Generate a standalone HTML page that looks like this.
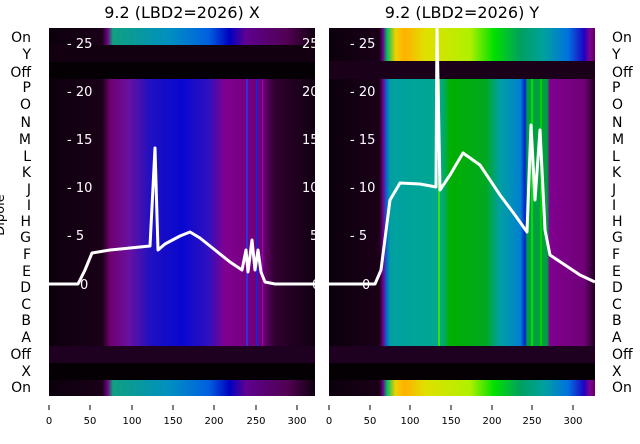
<!DOCTYPE html>
<html><head><style>
body{margin:0;width:640px;height:440px;background:#fff;overflow:hidden;font-family:"DejaVu Sans","Liberation Sans",sans-serif;}
</style></head><body>
<svg width="640" height="440" xmlns="http://www.w3.org/2000/svg" font-family="DejaVu Sans, Liberation Sans, sans-serif">
<defs>
<linearGradient id="lm" x1="49" x2="315" gradientUnits="userSpaceOnUse">
<stop offset="0" stop-color="#0c000c"/><stop offset="0.2" stop-color="#1a0018"/><stop offset="0.23" stop-color="#700070"/>
<stop offset="0.3" stop-color="#6a10a0"/><stop offset="0.38" stop-color="#2010c0"/><stop offset="0.5" stop-color="#0808d0"/>
<stop offset="0.6" stop-color="#3010c0"/><stop offset="0.66" stop-color="#800090"/><stop offset="0.8" stop-color="#700078"/>
<stop offset="0.85" stop-color="#300030"/><stop offset="1" stop-color="#100010"/></linearGradient>
<linearGradient id="lo" x1="49" x2="315" gradientUnits="userSpaceOnUse">
<stop offset="0" stop-color="#0c000c"/><stop offset="0.2" stop-color="#1a0018"/><stop offset="0.22" stop-color="#700080"/>
<stop offset="0.24" stop-color="#10a080"/><stop offset="0.45" stop-color="#0090c0"/><stop offset="0.6" stop-color="#0060e0"/>
<stop offset="0.68" stop-color="#0000c0"/><stop offset="0.74" stop-color="#600090"/><stop offset="0.9" stop-color="#500050"/>
<stop offset="1" stop-color="#100010"/></linearGradient>
<linearGradient id="rm" x1="329" x2="595" gradientUnits="userSpaceOnUse">
<stop offset="0" stop-color="#0c000c"/><stop offset="0.19" stop-color="#1a0018"/><stop offset="0.203" stop-color="#700090"/>
<stop offset="0.218" stop-color="#0070d0"/><stop offset="0.23" stop-color="#00a0a0"/><stop offset="0.42" stop-color="#00a890"/>
<stop offset="0.455" stop-color="#00b000"/><stop offset="0.59" stop-color="#00a820"/><stop offset="0.64" stop-color="#00a0a0"/>
<stop offset="0.72" stop-color="#0080d0"/><stop offset="0.737" stop-color="#0020d0"/><stop offset="0.745" stop-color="#00a040"/>
<stop offset="0.82" stop-color="#00a040"/><stop offset="0.83" stop-color="#800090"/><stop offset="0.96" stop-color="#700078"/>
<stop offset="1" stop-color="#200020"/></linearGradient>
<linearGradient id="ro" x1="329" x2="595" gradientUnits="userSpaceOnUse">
<stop offset="0" stop-color="#0c000c"/><stop offset="0.19" stop-color="#1a0018"/><stop offset="0.203" stop-color="#700090"/>
<stop offset="0.218" stop-color="#00c060"/><stop offset="0.25" stop-color="#f0d000"/><stop offset="0.286" stop-color="#ffb000"/>
<stop offset="0.36" stop-color="#e0e000"/><stop offset="0.53" stop-color="#b0f000"/><stop offset="0.62" stop-color="#00e000"/>
<stop offset="0.72" stop-color="#00a060"/><stop offset="0.81" stop-color="#00a0a0"/><stop offset="0.9" stop-color="#0070e0"/>
<stop offset="0.96" stop-color="#2000c0"/><stop offset="0.98" stop-color="#800090"/><stop offset="1" stop-color="#600060"/></linearGradient>
</defs>
<text x="182" y="18" font-size="16" text-anchor="middle">9.2 (LBD2=2026) X</text>
<text x="462" y="18" font-size="16" text-anchor="middle">9.2 (LBD2=2026) Y</text>
<!-- left panel -->
<rect x="49" y="28" width="266" height="17" fill="url(#lo)"/>
<rect x="49" y="45" width="266" height="17" fill="#120010"/>
<rect x="49" y="62" width="266" height="17" fill="#040004"/>
<rect x="49" y="79" width="266" height="267" fill="url(#lm)"/>
<rect x="49" y="346" width="266" height="17" fill="#1e0020"/>
<rect x="49" y="363" width="266" height="17" fill="#040004"/>
<rect x="49" y="380" width="266" height="16" fill="url(#lo)"/>
<rect x="246" y="79" width="2" height="267" fill="#3030e0"/><rect x="256" y="79" width="2" height="267" fill="#2020d0"/><rect x="262" y="79" width="1" height="267" fill="#a000c0"/>
<!-- right panel -->
<rect x="329" y="28" width="266" height="33" fill="url(#ro)"/>
<rect x="329" y="61" width="266" height="18" fill="#1a0018"/>
<rect x="329" y="79" width="266" height="267" fill="url(#rm)"/>
<rect x="329" y="346" width="266" height="17" fill="#1e0020"/>
<rect x="329" y="363" width="266" height="17" fill="#040004"/>
<rect x="329" y="380" width="266" height="16" fill="url(#ro)"/>
<rect x="438" y="79" width="2" height="267" fill="#40e000"/>
<rect x="531" y="79" width="2" height="267" fill="#00e000"/><rect x="540" y="79" width="2" height="267" fill="#00d000"/>
<!-- lines -->
<g fill="none" stroke="#fff" stroke-width="3" stroke-linejoin="round">
<polyline points="49,284 78,284 85,270 92,253 110,250 130,248 150,246 155,148 158,250 165,244 180,236 190,232 200,238 215,250 230,262 242,270 246,250 248,272 252,240 255,270 258,250 261,272 265,282 275,284 315,284"/>
<polyline points="329,284 375,284 381,270 390,200 400,183 420,184 436,187 437,28 440,190 450,175 463,153 480,165 500,195 515,215 527,232 531,125 535,200 540,130 545,230 550,255 565,265 580,275 595,282"/>
</g>
<g fill="#fff" font-size="13">
<text x="67" y="48">- 25</text><text x="67" y="96">- 20</text><text x="67" y="144">- 15</text><text x="67" y="192">- 10</text><text x="67" y="240">- 5</text><text x="80" y="289">0</text>
<text x="302" y="48">25</text><text x="302" y="96">20</text><text x="302" y="144">15</text><text x="302" y="192">10</text><text x="310" y="240">5</text><text x="312" y="289">0</text>
<text x="350" y="48">- 25</text><text x="350" y="96">- 20</text><text x="350" y="144">- 15</text><text x="350" y="192">- 10</text><text x="350" y="240">- 5</text><text x="362" y="289">0</text>
</g>
<g font-size="14" text-anchor="end">
<text x="31" y="42">On</text><text x="31" y="59">Y</text><text x="31" y="77">Off</text><text x="31" y="92">P</text><text x="31" y="109">O</text><text x="31" y="127">N</text><text x="31" y="144">M</text><text x="31" y="161">L</text><text x="31" y="177">K</text><text x="31" y="194">J</text><text x="31" y="210">I</text><text x="31" y="226">H</text><text x="31" y="242">G</text><text x="31" y="259">F</text><text x="31" y="276">E</text><text x="31" y="292">D</text><text x="31" y="309">C</text><text x="31" y="325">B</text><text x="31" y="342">A</text><text x="31" y="359">Off</text><text x="31" y="376">X</text><text x="31" y="392">On</text>
</g>
<g font-size="14">
<text x="612" y="42">On</text><text x="612" y="59">Y</text><text x="612" y="77">Off</text><text x="612" y="92">P</text><text x="612" y="109">O</text><text x="612" y="127">N</text><text x="612" y="144">M</text><text x="612" y="161">L</text><text x="612" y="177">K</text><text x="612" y="194">J</text><text x="612" y="210">I</text><text x="612" y="226">H</text><text x="612" y="242">G</text><text x="612" y="259">F</text><text x="612" y="276">E</text><text x="612" y="292">D</text><text x="612" y="309">C</text><text x="612" y="325">B</text><text x="612" y="342">A</text><text x="612" y="359">Off</text><text x="612" y="376">X</text><text x="612" y="392">On</text>
</g>
<text transform="translate(4,215) rotate(-90)" font-size="13" text-anchor="middle">Dipole</text>
<g stroke="#000" stroke-width="1">
<line x1="49" y1="405" x2="49" y2="410"/><line x1="90" y1="405" x2="90" y2="410"/><line x1="132" y1="405" x2="132" y2="410"/><line x1="173" y1="405" x2="173" y2="410"/><line x1="214" y1="405" x2="214" y2="410"/><line x1="256" y1="405" x2="256" y2="410"/><line x1="297" y1="405" x2="297" y2="410"/>
<line x1="329" y1="405" x2="329" y2="410"/><line x1="370" y1="405" x2="370" y2="410"/><line x1="410" y1="405" x2="410" y2="410"/><line x1="451" y1="405" x2="451" y2="410"/><line x1="492" y1="405" x2="492" y2="410"/><line x1="532" y1="405" x2="532" y2="410"/><line x1="573" y1="405" x2="573" y2="410"/>
</g>
<g font-size="10" text-anchor="middle">
<text x="49" y="424">0</text><text x="90" y="424">50</text><text x="132" y="424">100</text><text x="173" y="424">150</text><text x="214" y="424">200</text><text x="256" y="424">250</text><text x="297" y="424">300</text>
<text x="329" y="424">0</text><text x="370" y="424">50</text><text x="410" y="424">100</text><text x="451" y="424">150</text><text x="492" y="424">200</text><text x="532" y="424">250</text><text x="573" y="424">300</text>
</g>
</svg>
</body></html>
